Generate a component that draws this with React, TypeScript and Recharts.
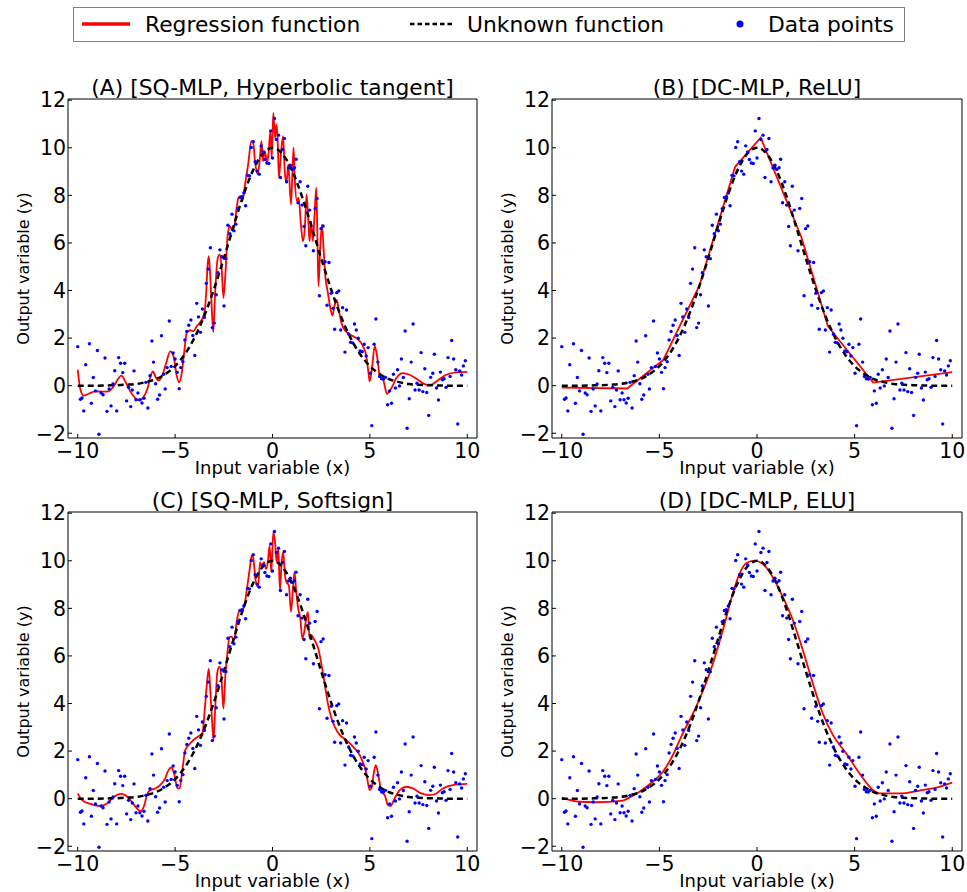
import React from 'react';
import { ComposedChart, Line, Scatter, XAxis, YAxis, Legend } from 'recharts';

const RED = '#ff0000';
const BLUE = '#0000ff';
const BLACK = '#000000';
const FONT = "'DejaVu Sans', sans-serif";

const X_TICKS = [-10, -5, 0, 5, 10];
const Y_TICKS = [-2, 0, 2, 4, 6, 8, 10, 12];
const X_DOMAIN = [-10.5, 10.5];
const Y_DOMAIN = [-2.2, 12.05];

const PANEL_TITLES = [
  '(A) [SQ-MLP, Hyperbolic tangent]',
  '(B) [DC-MLP, ReLU]',
  '(C) [SQ-MLP, Softsign]',
  '(D) [DC-MLP, ELU]',
];
const X_LABEL = 'Input variable (x)';
const Y_LABEL = 'Output variable (y)';
const SERIES_NAMES = ['Regression function', 'Unknown function', 'Data points'];

// noisy observations (same in all four panels)
const DATA_X = [
  -10.0, -9.86, -9.78, -9.69, -9.59, -9.4, -9.3, -9.2, -9.09, -8.99, -8.91, -8.8, -8.7, -8.6, -8.5, -8.39,
  -8.29, -8.19, -8.1, -8.0, -7.9, -7.8, -7.69, -7.59, -7.49, -7.39, -7.28, -7.2, -7.11, -7.01, -6.91, -6.81,
  -6.7, -6.6, -6.5, -6.4, -6.29, -6.19, -6.11, -6.0, -5.9, -5.8, -5.7, -5.59, -5.51, -5.41, -5.3, -5.2,
  -5.1, -5.0, -4.89, -4.79, -4.71, -4.6, -4.5, -4.4, -4.3, -4.19, -4.09, -3.99, -3.89, -3.8, -3.7, -3.6,
  -3.5, -3.4, -3.3, -3.19, -3.09, -2.99, -2.89, -2.8, -2.7, -2.6, -2.49, -2.39, -2.29, -2.19, -2.08, -1.98,
  -1.88, -1.78, -1.67, -1.57, -1.47, -1.38, -1.28, -1.18, -1.09, -0.99, -0.89, -0.79, -0.68, -0.58, -0.48,
  -0.39, -0.29, -0.19, -0.09, 0.0, 0.1, 0.2, 0.31, 0.41, 0.51, 0.61, 0.72, 0.82, 0.92, 1.02, 1.13, 1.21,
  1.31, 1.42, 1.52, 1.62, 1.71, 1.81, 1.91, 2.1, 2.19, 2.29, 2.41, 2.49, 2.6, 2.7, 2.8, 2.9, 3.01, 3.11,
  3.19, 3.3, 3.4, 3.5, 3.6, 3.72, 3.8, 3.91, 4.01, 4.11, 4.21, 4.3, 4.4, 4.5, 4.61, 4.71, 4.81, 4.91, 5.02,
  5.1, 5.22, 5.31, 5.41, 5.5, 5.6, 5.7, 5.8, 5.91, 6.01, 6.11, 6.21, 6.31, 6.42, 6.52, 6.62, 6.72, 6.81,
  6.91, 7.02, 7.12, 7.22, 7.32, 7.42, 7.53, 7.63, 7.72, 7.82, 7.92, 8.02, 8.12, 8.23, 8.31, 8.42, 8.52,
  8.62, 8.72, 8.81, 8.91, 9.01, 9.12, 9.2, 9.3, 9.41, 9.51, 9.61, 9.71, 9.8, 9.9,
];
const DATA_Y = [
  1.64, -0.57, -0.52, -1.06, 0.88, 1.76, -0.74, 0.34, -0.22, 1.48, -2.04, -0.31, -0.38, 1.16, -1.08, -0.14,
  -0.85, 0.07, 0.63, -1.06, 1.18, 0.94, 0.55, 0.94, -0.64, -0.07, -0.88, -0.18, 0.62, -0.59, -0.31, -0.59,
  -0.73, -0.53, 0.14, -0.94, 0.42, 1.88, 0.99, 0.08, -0.57, -0.39, 2.1, 0.48, -0.14, 0.76, 2.72, 0.81,
  1.37, 1.12, 0.56, -0.13, 0.76, 1.01, 1.92, 2.28, 2.54, 2.76, 2.11, 1.27, 3.46, 2.89, 2.24, 3.22,
  2.87, 4.3, 4.9, 5.8, 2.44, 2.63, 3.82, 4.75, 5.71, 5.42, 3.35, 5.34, 6.74, 6.39, 7.21, 6.51,
  6.79, 7.44, 7.91, 7.94, 8.1, 7.56, 8.84, 8.82, 10.01, 10.25, 9.41, 9.02, 8.89, 10.08, 9.82,
  9.51, 9.36, 9.34, 10.71, 9.57, 11.23, 10.35, 10.53, 8.75, 9.93, 10.39, 8.57, 9.15, 9.27, 9.09, 9.16, 9.52,
  7.69, 8.57, 7.59, 6.69, 5.88, 8.38, 7.38, 5.67, 7.45, 7.87, 3.78, 6.6, 6.71, 5.21, 3.38, 5.18, 3.88, 3.25,
  2.37, 3.91, 3.98, 2.34, 3.28, 1.41, 3.18, 2.17, 1.82, 1.8, 2.59, 2.34, 1.99, 1.46, 1.43, 1.74, 1.25, 1.6, 0.52,
  -1.68, 1.74, 2.8, 0.99, 0.39, 0.29, 0.28, 0.35, -0.8, -0.22, -0.74, 0.48, -0.1, 0.67, -0.01, 1.12, 0.34, 2.3,
  -1.79, -0.55, 0.99, 2.59, -0.18, 0.1, -0.18, 1.39, -0.25, 0.71, -0.29, -1.25, 0.35, 0.52, 1.32, -0.1, -0.6,
  0.57, 0.25, 0.29, -0.07, 1.18, 0.39, 1.9, 1.12, 0.67, -1.61, 0.62, 0.45, 0.83, 1.05,
];

// unknown (true) function, dashed black
const UNKNOWN_X = [
  -10, -9.5, -9, -8.5, -8, -7.5, -7, -6.5, -6, -5.5, -5, -4.5, -4, -3.5, -3, -2.5, -2, -1.5, -1, -0.5, 0,
  0.5, 1, 1.5, 2, 2.5, 3, 3.5, 4, 4.5, 5, 5.5, 6, 6.5, 7, 7.5, 8, 8.5, 9, 9.5, 10,
];
const UNKNOWN_Y = [
  0.0, 0.0, 0.0, 0.01, 0.02, 0.04, 0.07, 0.15, 0.27, 0.49, 0.82, 1.32, 2.02, 2.94, 4.07, 5.35, 6.7, 7.99, 9.05, 9.75, 10.0,
  9.75, 9.05, 7.99, 6.7, 5.35, 4.07, 2.94, 2.02, 1.32, 0.82, 0.49, 0.27, 0.15, 0.07, 0.04, 0.02, 0.01, 0.0, 0.0, 0.0,
];

// (A) SQ-MLP, hyperbolic tangent
const REG_A_X = [
  -10.0, -9.86, -9.69, -9.44, -9.09, -8.75, -8.41, -8.16, -7.9, -7.76, -7.56, -7.3, -7.05, -6.84, -6.62, -6.41,
  -6.24, -6.14, -6.02, -5.85, -5.68, -5.46, -5.25, -5.08, -4.91, -4.79, -4.66, -4.54, -4.4, -4.23, -4.06, -3.89,
  -3.63, -3.49, -3.41, -3.33, -3.27, -3.2, -3.12, -3.04, -2.95, -2.81, -2.71, -2.61, -2.52, -2.4, -2.3, -2.19,
  -2.08, -1.96, -1.84, -1.75, -1.63, -1.55, -1.41, -1.24, -1.09, -1.0, -0.9, -0.76, -0.66, -0.57, -0.49, -0.39,
  -0.28, -0.2, -0.11, -0.04, 0.04, 0.13, 0.2, 0.26, 0.33, 0.43, 0.54, 0.64, 0.72, 0.81, 0.95, 1.02, 1.08, 1.15,
  1.25, 1.34, 1.46, 1.56, 1.66, 1.75, 1.84, 1.9, 1.99, 2.07, 2.16, 2.25, 2.31, 2.36, 2.45, 2.54, 2.62, 2.72,
  2.83, 2.96, 3.08, 3.18, 3.3, 3.4, 3.55, 3.75, 3.97, 4.2, 4.4, 4.65, 4.82, 4.92, 4.99, 5.1, 5.25, 5.37, 5.51,
  5.68, 5.88, 6.11, 6.36, 6.7, 7.04, 7.47, 7.9, 8.15, 8.41, 8.92, 9.44, 10.0,
];
const REG_A_Y = [
  0.67, -0.17, -0.42, -0.34, -0.24, -0.25, -0.24, -0.03, 0.32, 0.42, 0.18, -0.24, -0.52, -0.62, -0.48, -0.1,
  0.46, 0.6, 0.39, 0.21, 0.39, 0.95, 1.44, 1.23, 0.39, 0.14, 0.53, 1.37, 2.22, 2.33, 2.29, 2.5,
  2.78, 3.1, 3.83, 5.1, 5.44, 4.67, 3.27, 2.25, 3.83, 5.37, 5.51, 4.95, 3.69, 4.95, 6.35, 6.7,
  6.56, 6.7, 7.48, 7.9, 7.97, 7.76, 8.46, 9.37, 10.28, 10.28, 9.44, 8.88, 9.44, 10.28, 9.44, 9.86,
  9.37, 9.79, 10.7, 9.58, 11.47, 10.42, 10.98, 10.42, 8.74, 9.72, 10.49, 8.88, 8.53, 9.3, 7.62, 8.88, 10.0, 8.6,
  7.76, 7.9, 6.77, 6.07, 6.63, 8.04, 6.91, 6.07, 6.91, 6.07, 7.19, 8.32, 6.07, 4.18, 5.79, 6.77, 5.79, 4.53,
  3.97, 3.3, 2.95, 3.35, 3.6, 3.2, 2.6, 2.3, 2.15, 2.05, 1.94, 1.66, 1.23, 0.6, 0.18, 0.67, 1.66, 1.23, 0.39,
  0.25, -0.34, -0.1, 0.32, 0.53, 0.46, 0.25, 0.04, 0.04, 0.18, 0.46, 0.56, 0.58,
];

// (B) DC-MLP, ReLU
const REG_B_X = [-10, -6.65, -4.8, -2.95, -1.12, 0.19, 2.27, 3.63, 5.95, 10];
const REG_B_Y = [-0.08, -0.12, 1.08, 4.2, 9.2, 10.42, 6.25, 2.5, 0.13, 0.57];

// (C) SQ-MLP, softsign
const REG_C_X = [
  -10.0, -9.78, -9.35, -8.84, -8.5, -8.16, -7.81, -7.56, -7.22, -6.96, -6.76, -6.58, -6.45, -6.28, -6.02, -5.77,
  -5.51, -5.34, -5.2, -5.05, -4.88, -4.77, -4.65, -4.48, -4.23, -3.97, -3.72, -3.6, -3.46, -3.36, -3.27, -3.19,
  -3.1, -3.03, -2.95, -2.83, -2.72, -2.62, -2.52, -2.42, -2.31, -2.21, -2.09, -1.97, -1.84, -1.72, -1.58, -1.44,
  -1.31, -1.17, -1.07, -0.98, -0.88, -0.74, -0.64, -0.54, -0.44, -0.33, -0.23, -0.15, -0.06, 0.04, 0.13, 0.21,
  0.3, 0.38, 0.47, 0.55, 0.64, 0.72, 0.84, 0.95, 1.05, 1.13, 1.22, 1.32, 1.43, 1.53, 1.63, 1.73, 1.82, 1.9,
  2.01, 2.11, 2.21, 2.35, 2.52, 2.69, 2.86, 3.03, 3.2, 3.46, 3.8, 4.14, 4.48, 4.82, 4.99, 5.08, 5.2, 5.3, 5.42,
  5.59, 5.76, 5.93, 6.05, 6.27, 6.53, 6.87, 7.21, 7.64, 8.07, 8.41, 8.75, 9.26, 10.0,
];
const REG_C_Y = [
  0.22, -0.06, -0.22, -0.31, -0.2, 0.06, 0.2, 0.15, -0.13, -0.41, -0.52, -0.27, 0.15, 0.36, 0.43, 0.57,
  0.85, 1.2, 1.31, 1.06, 0.43, 0.43, 1.06, 2.04, 2.32, 2.53, 2.67, 2.75, 3.93, 4.91, 5.47, 4.49,
  3.23, 2.45, 3.65, 5.33, 5.55, 5.05, 3.79, 5.19, 6.17, 6.8, 6.8, 6.66, 7.43, 7.87, 7.9, 8.13,
  8.83, 9.66, 10.22, 10.08, 9.24, 8.9, 9.94, 9.73, 9.94, 9.66, 10.01, 10.64, 9.52, 11.2, 10.78, 9.94,
  10.5, 8.76, 9.94, 10.36, 9.38, 9.1, 8.97, 7.85, 8.83, 9.52, 8.69, 7.99, 7.57, 6.73, 7.01, 7.57, 7.85, 6.73,
  6.87, 6.73, 6.59, 6.31, 5.61, 4.77, 3.93, 3.37, 3.02, 2.67, 2.46, 2.18, 1.83, 1.06, 0.36, 0.43, 1.06, 1.41, 1.06,
  0.29, 0.15, -0.27, -0.31, 0.01, 0.36, 0.5, 0.43, 0.22, 0.15, 0.22, 0.43, 0.57, 0.62,
];

// (D) DC-MLP, ELU
const REG_D_X = [
  -10, -9.1, -8.24, -6.87, -6.62, -6.02, -5.34, -4.82, -4.4, -3.8, -3.12, -2.43, -1.75, -1.24, -0.9, -0.56, -0.13,
  0.3, 0.81, 1.32, 1.84, 2.35, 2.86, 3.37, 3.89, 4.57, 5.25, 5.94, 6.28, 7.3, 8.33, 9.35, 10,
];
const REG_D_Y = [
  0.04, -0.13, -0.15, -0.08, 0.01, 0.29, 0.71, 1.13, 1.69, 2.74, 3.86, 5.26, 7.08, 8.62, 9.45, 9.9, 10.01,
  9.87, 9.31, 8.48, 7.5, 6.24, 4.84, 3.58, 2.67, 1.9, 1.06, 0.36, 0.22, 0.22, 0.34, 0.5, 0.67,
];

const zip = (xs: number[], ys: number[]) => xs.map((x, i) => ({ x, y: ys[i] }));
const POINTS = zip(DATA_X, DATA_Y);
const UNKNOWN = zip(UNKNOWN_X, UNKNOWN_Y);
const REGRESSIONS = [
  { data: zip(REG_A_X, REG_A_Y), curve: 'monotone' },
  { data: zip(REG_B_X, REG_B_Y), curve: 'linear' },
  { data: zip(REG_C_X, REG_C_Y), curve: 'monotone' },
  { data: zip(REG_D_X, REG_D_Y), curve: 'monotone' },
];

const TICK_FONT = 20.5;
const fmtTick = (v: number) => (v < 0 ? `\u2212${Math.abs(v)}` : `${v}`);

const TitleLabel = (props: any) => {
  const vb = props.viewBox || {};
  return (
    <text x={vb.x + vb.width / 2} y={vb.y - 4} textAnchor="middle" fontSize={21.8} fontFamily={FONT} fill={BLACK}>
      {props.text}
    </text>
  );
};

const XAxisLabel = (props: any) => {
  const vb = props.viewBox || {};
  return (
    <text x={vb.x + vb.width / 2} y={vb.y + 35.5} textAnchor="middle" fontSize={18} fontFamily={FONT} fill={BLACK}>
      {props.text}
    </text>
  );
};

const YAxisLabel = (props: any) => {
  const vb = props.viewBox || {};
  const cx = vb.x + vb.width - 39.5;
  const cy = vb.y + vb.height / 2;
  return (
    <text
      x={cx}
      y={cy}
      textAnchor="middle"
      fontSize={16}
      fontFamily={FONT}
      fill={BLACK}
      transform={`rotate(-90 ${cx} ${cy})`}
    >
      {props.text}
    </text>
  );
};

const LegendBox = () => (
  <div
    style={{
      width: 832,
      height: 35,
      border: '1px solid #7f7f7f',
      boxSizing: 'border-box',
      background: '#fff',
    }}
  >
    <svg width={830} height={33} style={{ display: 'block' }}>
      <line x1={8} y1={16} x2={56} y2={16} stroke={RED} strokeWidth={3.5} />
      <text x={71} y={23.5} fontSize={21.8} fontFamily={FONT} fill={BLACK}>
        {SERIES_NAMES[0]}
      </text>
      <line x1={336} y1={16} x2={381} y2={16} stroke={BLACK} strokeWidth={2.5} strokeDasharray="4.5 3" />
      <text x={393} y={23.5} fontSize={21.8} fontFamily={FONT} fill={BLACK}>
        {SERIES_NAMES[1]}
      </text>
      <circle cx={666} cy={16} r={3.5} fill={BLUE} />
      <text x={694} y={23.5} fontSize={21.8} fontFamily={FONT} fill={BLACK}>
        {SERIES_NAMES[2]}
      </text>
    </svg>
  </div>
);

const dotShape = (p: any) => <circle cx={p.cx} cy={p.cy} r={1.7} fill={BLUE} />;

type PanelProps = {
  idx: number;
  left: number;
  top: number;
  height: number;
  marginTop: number;
  marginRight: number;
  axisHeight: number;
  withLegend?: boolean;
};

const Panel = ({ idx, left, top, height, marginTop, marginRight, axisHeight, withLegend }: PanelProps) => {
  const reg = REGRESSIONS[idx];
  return (
    <div style={{ position: 'absolute', left, top }}>
      <ComposedChart
        width={483}
        height={height}
        margin={{ top: marginTop, right: marginRight, bottom: 0, left: 0 }}
        style={{ fontFamily: FONT }}
      >
        <XAxis
          xAxisId="b"
          dataKey="x"
          type="number"
          domain={X_DOMAIN}
          ticks={X_TICKS}
          interval={0}
          allowDataOverflow
          orientation="bottom"
          height={axisHeight}
          tickSize={-4}
          tickMargin={9}
          axisLine={{ stroke: BLACK, strokeWidth: 1 }}
          tickLine={{ stroke: BLACK, strokeWidth: 1 }}
          tick={{ fill: BLACK, fontSize: TICK_FONT, fontFamily: FONT }}
          tickFormatter={fmtTick}
          label={<XAxisLabel text={X_LABEL} />}
        />
        <XAxis
          xAxisId="t"
          dataKey="x"
          type="number"
          domain={X_DOMAIN}
          ticks={X_TICKS}
          interval={0}
          allowDataOverflow
          orientation="top"
          mirror
          height={10}
          tickSize={4}
          axisLine={{ stroke: BLACK, strokeWidth: 1 }}
          tickLine={{ stroke: BLACK, strokeWidth: 1 }}
          tick={false}
          label={<TitleLabel text={PANEL_TITLES[idx]} />}
        />
        <YAxis
          yAxisId="l"
          dataKey="y"
          type="number"
          domain={Y_DOMAIN}
          ticks={Y_TICKS}
          interval={0}
          allowDataOverflow
          width={68}
          tickSize={-4}
          tickMargin={6}
          axisLine={{ stroke: BLACK, strokeWidth: 1 }}
          tickLine={{ stroke: BLACK, strokeWidth: 1 }}
          tick={{ fill: BLACK, fontSize: TICK_FONT, fontFamily: FONT }}
          tickFormatter={fmtTick}
          label={<YAxisLabel text={Y_LABEL} />}
        />
        <YAxis
          yAxisId="r"
          dataKey="y"
          type="number"
          orientation="right"
          mirror
          domain={Y_DOMAIN}
          ticks={Y_TICKS}
          interval={0}
          allowDataOverflow
          width={10}
          tickSize={4}
          axisLine={{ stroke: BLACK, strokeWidth: 1 }}
          tickLine={{ stroke: BLACK, strokeWidth: 1 }}
          tick={false}
        />
        <Line
          xAxisId="b"
          yAxisId="l"
          data={reg.data}
          dataKey="y"
          name={SERIES_NAMES[0]}
          type={reg.curve as any}
          stroke={RED}
          strokeWidth={1.8}
          dot={false}
          activeDot={false}
          isAnimationActive={false}
        />
        <Line
          xAxisId="b"
          yAxisId="l"
          data={UNKNOWN}
          dataKey="y"
          name={SERIES_NAMES[1]}
          type="monotone"
          stroke={BLACK}
          strokeWidth={2.5}
          strokeDasharray="6 4"
          dot={false}
          activeDot={false}
          isAnimationActive={false}
        />
        <Scatter
          xAxisId="b"
          yAxisId="l"
          data={POINTS}
          dataKey="y"
          name={SERIES_NAMES[2]}
          fill={BLUE}
          shape={dotShape}
          isAnimationActive={false}
        />
        {withLegend ? (
          <Legend
            layout="horizontal"
            verticalAlign="middle"
            align="center"
            content={<LegendBox />}
            wrapperStyle={{ position: 'absolute', left: 73, top: 7, width: 832, height: 35 }}
          />
        ) : null}
      </ComposedChart>
    </div>
  );
};

export default function App() {
  return (
    <div style={{ position: 'absolute', left: 0, top: 0, width: 967, height: 892, background: '#fff' }}>
      <Panel idx={0} left={0} top={0} height={482} marginTop={99} marginRight={6} axisHeight={44} withLegend />
      <Panel idx={1} left={484} top={60} height={422} marginTop={39} marginRight={5} axisHeight={44} />
      <Panel idx={2} left={0} top={473} height={419} marginTop={39} marginRight={6} axisHeight={41} />
      <Panel idx={3} left={484} top={473} height={419} marginTop={39} marginRight={5} axisHeight={41} />
    </div>
  );
}
